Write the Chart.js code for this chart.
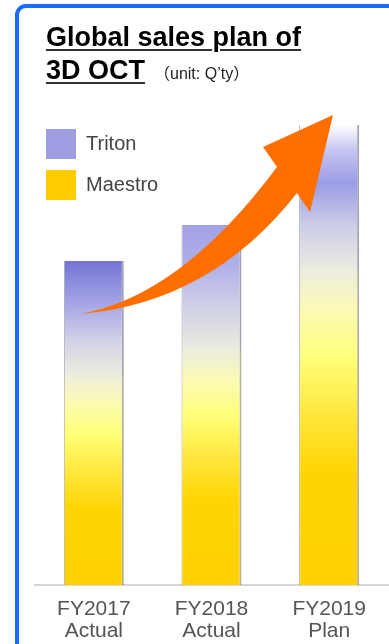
<!DOCTYPE html>
<html>
<head>
<meta charset="utf-8">
<script src="https://cdn.jsdelivr.net/npm/chart.js@4.4.1/dist/chart.umd.min.js"></script>
<style>
  html, body { margin: 0; padding: 0; background: #ffffff; }
  body { width: 389px; height: 644px; position: relative; overflow: hidden; font-family: "Liberation Sans", Arial, sans-serif; }
  #frame { position: absolute; left: 15px; top: 4px; width: 420px; height: 700px; border: 4px solid #1a6bff; border-radius: 11px; box-sizing: border-box; }
  .title { position: absolute; left: 46px; font-weight: bold; font-size: 27px; line-height: 27px; color: #000; white-space: nowrap; }
  .title .u { text-decoration: underline; text-decoration-thickness: 2px; text-underline-offset: 3px; text-decoration-color: #333; }
  .unit { font-weight: normal; font-size: 16px; color: #222; margin-left: 9px; font-family: "Liberation Sans", "Noto Sans CJK JP", sans-serif; }
  #wrap { position: absolute; left: 0; top: 0; width: 389px; height: 655px; }
</style>
</head>
<body>
<div id="frame"></div>
<div id="wrap"><canvas id="c" width="389" height="655"></canvas></div>
<div class="title" style="top:24px;"><span class="u">Global sales plan of</span></div>
<div class="title" style="top:57px;"><span class="u">3D OCT</span><span class="unit">（unit: Q’ty）</span></div>
<script>
// ---- data (relative quantities; no axis is shown) ----
const categories = [["FY2017", "Actual"], ["FY2018", "Actual"], ["FY2019", "Plan"]];
const seriesNames = ["Maestro", "Triton"];
const maestro = [210, 235, 315];
const triton  = [114, 125, 145];

// ---- styles ----
const maestroStops = [
  [0, "#FFD200"], [0.35, "#FFD400"], [0.55, "#FFE840"], [0.72, "#FFFF78"], [0.88, "#FAFAB6"], [1, "#ECECDE"]
];
const tritonStops = [
  [[0, "#ECECDE"], [0.3, "#D2D2E8"], [0.62, "#A6A6E6"], [1, "#7474D6"]],
  [[0, "#ECECDE"], [0.35, "#CFCFE8"], [0.7, "#AEAEE8"], [1, "#A2A2E6"]],
  [[0, "#ECECDE"], [0.3, "#CDCDE8"], [0.6, "#9C9CE6"], [0.82, "#C4C4F0"], [1, "#FFFFFF"]]
];

function makeGrad(chart, vFrom, vTo, stops) {
  const y = chart.scales.y;
  const p0 = y.getPixelForValue(vFrom), p1 = y.getPixelForValue(vTo);
  const g = chart.ctx.createLinearGradient(0, p0, 0, p1);
  stops.forEach(s => g.addColorStop(s[0], s[1]));
  return g;
}

// decorative growth arrow (not a data mark)
const arrowPlugin = {
  id: "arrow",
  afterDatasetsDraw(chart) {
    const ctx = chart.ctx;
    ctx.save();
    ctx.fillStyle = "#FF6F00";
    ctx.beginPath();
    ctx.moveTo(80, 314);
    ctx.quadraticCurveTo(181, 296, 277, 167);
    ctx.lineTo(263, 147);
    ctx.lineTo(333, 115);
    ctx.lineTo(310, 212);
    ctx.lineTo(297, 193);
    ctx.quadraticCurveTo(211, 303, 80, 314);
    ctx.closePath();
    ctx.fill();
    ctx.restore();
  }
};

new Chart(document.getElementById("c"), {
  type: "bar",
  data: {
    labels: categories,
    datasets: [
      {
        label: seriesNames[0],
        data: maestro,
        backgroundColor: (c) => (c.type === "data" && c.chart.chartArea)
          ? makeGrad(c.chart, 0, maestro[c.dataIndex], maestroStops) : "#FFCC00",
        borderColor: "rgba(120,110,80,0.55)",
        borderWidth: { left: 1, right: 2, top: 0, bottom: 0 },
        borderSkipped: false
      },
      {
        label: seriesNames[1],
        data: triton,
        backgroundColor: (c) => (c.type === "data" && c.chart.chartArea)
          ? makeGrad(c.chart, maestro[c.dataIndex], maestro[c.dataIndex] + triton[c.dataIndex], tritonStops[c.dataIndex]) : "#9E9EE0",
        borderColor: "rgba(90,90,120,0.55)",
        borderWidth: { left: 1, right: 2, top: 0, bottom: 0 },
        borderSkipped: false
      }
    ]
  },
  options: {
    responsive: false,
    animation: false,
    devicePixelRatio: 1,
    layout: { padding: { left: 35, right: 1, top: 118, bottom: 0 } },
    datasets: { bar: { barPercentage: 1, categoryPercentage: 0.51 } },
    scales: {
      x: {
        stacked: true,
        grid: { display: false, drawTicks: false },
        border: { display: true, color: "#D6D6D6", width: 2 },
        ticks: { color: "#555", padding: 13, font: { family: "'Liberation Sans', Arial, sans-serif", size: 21, lineHeight: "22px" } }
      },
      y: {
        stacked: true,
        display: false,
        min: 0,
        max: 467
      }
    },
    plugins: {
      tooltip: { enabled: false },
      legend: {
        position: "chartArea",
        align: "start",
        reverse: true,
        title: { display: true, text: " ", color: "rgba(0,0,0,0)", font: { size: 1, lineHeight: 1 }, padding: { top: 117, bottom: 0 } },
        labels: {
          boxWidth: 30,
          boxHeight: 30,
          padding: 11,
          color: "#444",
          font: { family: "'Liberation Sans', Arial, sans-serif", size: 20 },
          generateLabels(chart) {
            const fills = ["#FFCC00", "#9E9EE0"];
            return chart.data.datasets.map((d, i) => ({
              text: d.label, fillStyle: fills[i], strokeStyle: fills[i], lineWidth: 0,
              datasetIndex: i, hidden: false, fontColor: "#444"
            }));
          }
        }
      }
    }
  },
  plugins: [arrowPlugin]
});
</script>
</body>
</html>
